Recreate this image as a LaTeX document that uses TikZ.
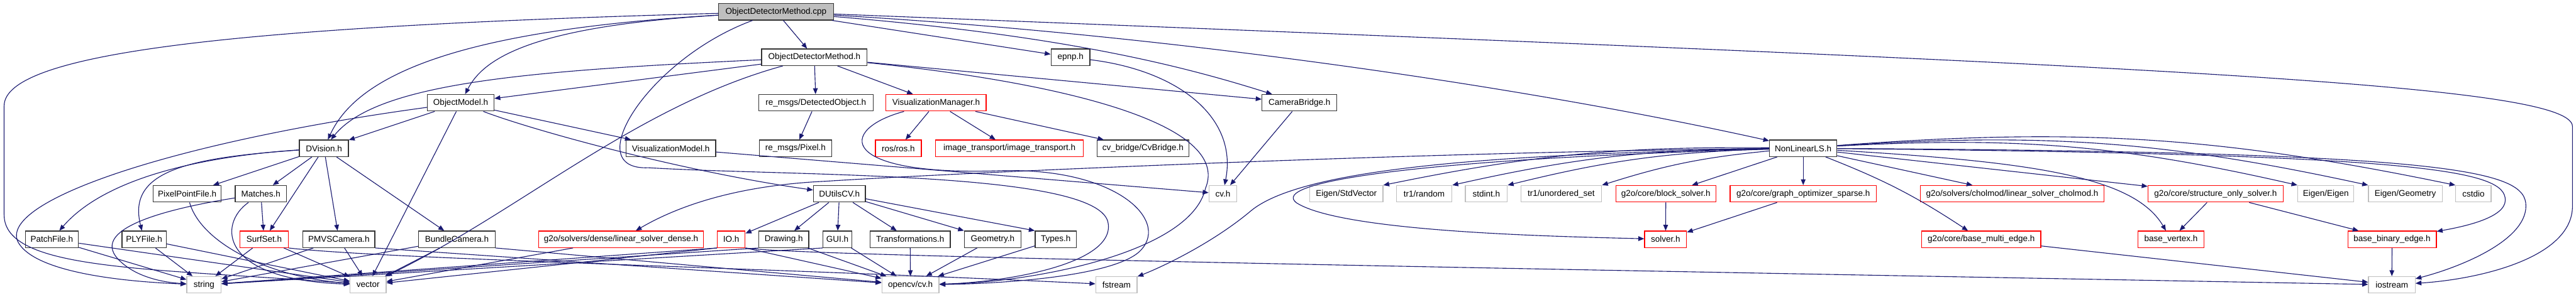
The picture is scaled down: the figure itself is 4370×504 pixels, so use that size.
\documentclass[tikz,border=0pt]{standalone}
\usepackage{fontspec}
\setmainfont{Liberation Sans}
\usepackage{xcolor}
\usetikzlibrary{arrows.meta}
\definecolor{depblue}{HTML}{191970}
\definecolor{extgray}{HTML}{BFBFBF}

\begin{document}
\begin{tikzpicture}[x=0.5pt,y=-0.5pt,
  box/.style={draw=black!80,fill=white,line width=0.7pt,minimum height=14pt,inner xsep=2pt,inner ysep=0pt,font=\fontsize{7.2pt}{8.6pt}\selectfont},
  redbox/.style={box,draw=red},
  extbox/.style={box,draw=extgray},
  rootbox/.style={box,fill=extgray},
  dep/.style={draw=depblue,line width=0.6pt,-{Triangle[length=5pt,width=4pt]}}]
 \useasboundingbox (0,0) rectangle (4370,504);
 \node[rootbox,minimum width=97.5pt] (cpp) at (1316.5,20) {ObjectDetectorMethod.cpp};
 \foreach \n/\a/\b/\r/\t in {odmh/1292/1471/1/ObjectDetectorMethod.h, epnp/1783/1849/1/epnp.h,
   objmodel/725/838/2/ObjectModel.h, detobj/1287/1481/2/{re\_msgs/DetectedObject.h}, cambridge/2141/2268/2/CameraBridge.h,
   dvision/508/591/3/DVision.h, vismodel/1062/1214/3/VisualizationModel.h, pixel/1288/1411/3/{re\_msgs/Pixel.h},
   cvbridge/1861/2017/3/{cv\_bridge/CvBridge.h}, nonlin/3002/3116/3/NonLinearLS.h,
   pixfile/260/375/4/PixelPointFile.h, matches/399/486/4/Matches.h, dutils/1380/1468/4/DUtilsCV.h,
   patchfile/43/133/5/PatchFile.h, plyfile/207/282/5/PLYFile.h, pmvs/514/636/5/PMVSCamera.h,
   bundle/710/840/5/BundleCamera.h, drawing/1287/1372/5/Drawing.h, gui/1396/1445/5/GUI.h,
   transf/1476/1612/5/Transformations.h, geometry/1636/1732/5/Geometry.h, types/1756/1826/5/Types.h}
   \node[box,minimum width={(\b-\a)*0.5pt}] (\n) at ({(\a+\b)/2},{20+77.33*\r}) {\t};
 \foreach \n/\a/\b/\r/\t in {vismgr/1503/1673/2/VisualizationManager.h, ros/1485/1563/3/{ros/ros.h},
   imgtr/1587/1838/3/{image\_transport/image\_transport.h}, blocksolver/2741/2911/4/{g2o/core/block\_solver.h},
   gos/2935/3183/4/{g2o/core/graph\_optimizer\_sparse.h}, cholmod/3258/3569/4/{g2o/solvers/cholmod/linear\_solver\_cholmod.h},
   structonly/3644/3873/4/{g2o/core/structure\_only\_solver.h}, surfset/407/489/5/SurfSet.h,
   dense/914/1193/5/{g2o/solvers/dense/linear\_solver\_dense.h}, io/1217/1264/5/IO.h, solver/2790/2861/5/solver.h,
   multiedge/3260/3462/5/{g2o/core/base\_multi\_edge.h}, basevertex/3627/3739/5/base\_vertex.h,
   binaryedge/3983/4133/5/base\_binary\_edge.h}
   \node[redbox,minimum width={(\b-\a)*0.5pt}] (\n) at ({(\a+\b)/2},{20+77.33*\r}) {\t};
 \foreach \n/\a/\b/\r/\t in {cvh/2051/2098/4/cv.h, stdvec/2222/2346/4/{Eigen/StdVector}, random/2369/2463/4/{tr1/random},
   stdint/2486/2557/4/stdint.h, unordset/2580/2717/4/{tr1/unordered\_set}, eigen/3898/3993/4/{Eigen/Eigen},
   eigengeo/4018/4143/4/{Eigen/Geometry}, cstdio/4166/4226/4/cstdio, string/317/375/6/string,
   vector/594/655/6/vector, opencv/1496/1593/6/{opencv/cv.h}, fstream/1859/1929/6/fstream, iostream/4018/4097/6/iostream}
   \node[extbox,minimum width={(\b-\a)*0.5pt}] (\n) at ({(\a+\b)/2},{20+77.33*\r}) {\t};
 \foreach \s/\t in {cpp/odmh, cpp/epnp, odmh/objmodel, odmh/detobj, odmh/vismgr, odmh/cambridge,
   detobj/pixel, vismgr/ros, vismgr/imgtr, vismgr/cvbridge, cambridge/cvh, vismodel/cvh,
   objmodel/dvision, objmodel/vismodel, objmodel/vector,
   dvision/pixfile, dvision/matches, dvision/surfset, dvision/pmvs, dvision/bundle, matches/surfset,
   patchfile/string, patchfile/vector, plyfile/string, plyfile/vector,
   surfset/string, surfset/vector, pmvs/string, pmvs/vector, bundle/string, bundle/vector, dense/vector,
   drawing/opencv, gui/opencv, transf/opencv, geometry/opencv, types/opencv,
   dutils/io, dutils/drawing, dutils/gui, dutils/transf,
   nonlin/blocksolver, nonlin/gos, nonlin/cholmod, nonlin/structonly,
   blocksolver/solver, gos/solver, structonly/basevertex, structonly/binaryedge,
   binaryedge/iostream, multiedge/iostream}
   \draw[dep] (\s) -- (\t);
 \foreach \s/\t in {pmvs/opencv, bundle/opencv, io/opencv} \draw[dep] (\s.south east) -- (\t);
 \foreach \s/\t in {io/string, io/vector, drawing/string, gui/string} \draw[dep] (\s.south west) -- (\t);
 \foreach \t in {geometry, types} \draw[dep] (dutils) -- (\t.north west);
 \foreach \t in {stdvec, random, stdint, unordset} \draw[dep] (nonlin) to[bend right=6] (\t.north east);
 \foreach \t in {eigen, eigengeo, cstdio} \draw[dep] (nonlin) to[bend left=8] (\t.north west);
 \draw[dep] (nonlin) to[bend left=6] (multiedge);
 \draw[dep] (cpp) .. controls (400,45) and (7,90) .. (7,180) -- (7,365) .. controls (7,460) and (250,455) .. (vector);
 \draw[dep] (cpp) .. controls (900,45) and (820,100) .. (objmodel);
 \draw[dep] (cpp) .. controls (800,50) and (610,120) .. (dvision);
 \draw[dep] (cpp) .. controls (1800,60) and (2000,110) .. (cambridge);
 \draw[dep] (cpp) .. controls (2000,60) and (2600,150) .. (nonlin);
 \draw[dep] (cpp) .. controls (3600,110) and (4364,140) .. (4364,215) -- (4364,350) .. controls (4364,440) and (4200,475) .. (iostream);
 \draw[dep] (cpp) .. controls (1100,100) and (980,290) .. (1100,285) .. controls (1350,300) and (1870,290) .. (1880,380) .. controls (1890,450) and (1700,480) .. (opencv);
 \draw[dep] (odmh) .. controls (900,120) and (640,140) .. (dvision);
 \draw[dep] (odmh) .. controls (1080,180) and (880,360) .. (vector);
 \draw[dep] (odmh) .. controls (1800,140) and (2090,210) .. (2045,320) .. controls (2020,430) and (1750,480) .. (opencv);
 \draw[dep] (vismgr) .. controls (1420,220) and (1420,300) .. (1700,290) .. controls (1900,285) and (1990,380) .. (1930,430) .. controls (1880,470) and (1700,482) .. (opencv);
 \draw[dep] (epnp) .. controls (2000,120) and (2100,200) .. (cvh);
 \draw[dep] (objmodel) .. controls (300,240) and (0,340) .. (30,410) .. controls (60,470) and (250,480) .. (string);
 \draw[dep] (objmodel) .. controls (900,220) and (1150,290) .. (dutils);
 \draw[dep] (dvision) .. controls (350,265) and (180,300) .. (patchfile);
 \draw[dep] (dvision) .. controls (320,268) and (215,290) .. (plyfile);
 \draw[dep] (pixfile) .. controls (340,410) and (450,470) .. (vector);
 \draw[dep] (matches) .. controls (300,352) and (150,385) .. (200,440) .. controls (230,472) and (280,480) .. (string);
 \draw[dep] (matches) .. controls (370,380) and (370,475) .. (vector);
 \draw[dep] (surfset.south east) .. controls (650,440) and (1300,455) .. (fstream);
 \draw[dep] (io.south east) .. controls (1350,435) and (2500,455) .. (iostream);
 \draw[dep] (nonlin) .. controls (2400,258) and (1600,295) .. (1400,308) .. controls (1250,315) and (1150,350) .. (dense);
 \draw[dep] (nonlin) .. controls (2400,270) and (2150,310) .. (2200,345) .. controls (2280,395) and (2650,402) .. (solver);
 \draw[dep] (nonlin) .. controls (2500,262) and (2200,290) .. (2120,360) .. controls (2060,410) and (1980,450) .. (fstream);
 \draw[dep] (nonlin) .. controls (3450,275) and (3620,300) .. (basevertex);
 \draw[dep] (nonlin) .. controls (4120,262) and (4250,290) .. (4250,340) .. controls (4250,370) and (4180,385) .. (binaryedge);
 \draw[dep] (nonlin) .. controls (4170,258) and (4285,290) .. (4285,350) .. controls (4285,410) and (4170,455) .. (iostream);
\end{tikzpicture}
\end{document}
